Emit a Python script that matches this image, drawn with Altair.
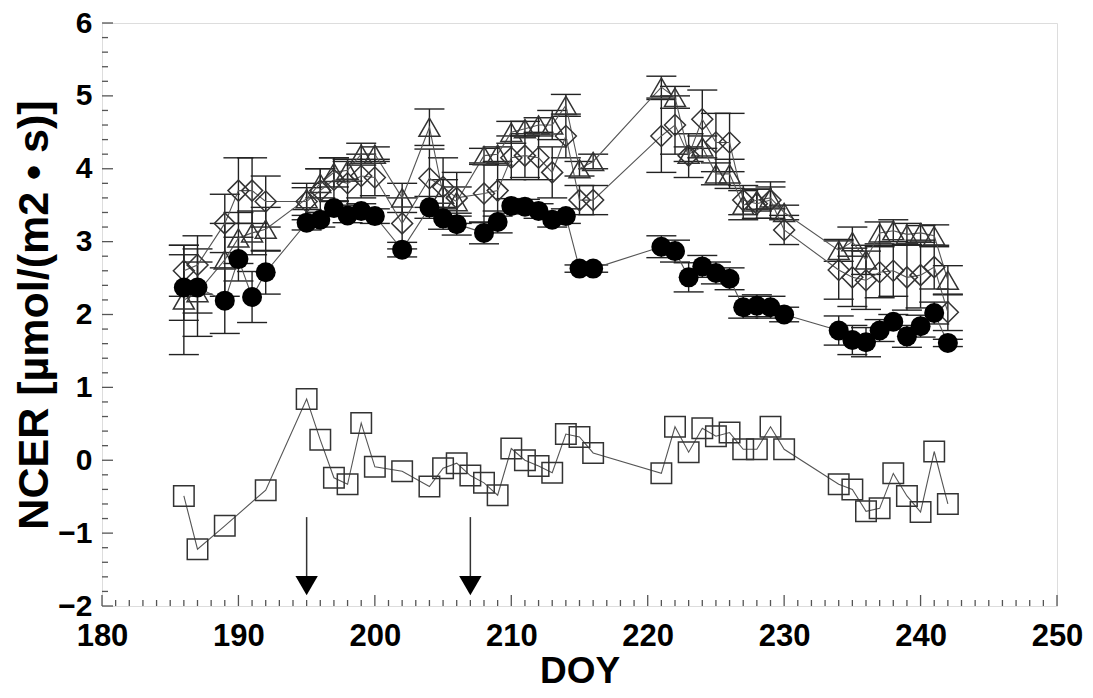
import altair as alt
import pandas as pd

# ---- data ----
days = [186, 187, 189, 190, 191, 192, 195, 196, 197, 198, 199, 200, 202, 204, 205, 206,
        208, 209, 210, 211, 212, 213, 214, 215, 216, 221, 222, 223, 224, 225, 226, 227,
        228, 229, 230, 234, 235, 236, 237, 238, 239, 240, 241, 242]

circle_vals = [2.37, 2.37, 2.19, 2.76, 2.24, 2.58, 3.26, 3.30, 3.46, 3.36, 3.42, 3.35, 2.89, 3.47, 3.32, 3.24,
               3.12, 3.27, 3.49, 3.48, 3.42, 3.30, 3.35, 2.63, 2.63, 2.93, 2.87, 2.51, 2.66, 2.57, 2.49, 2.10,
               2.12, 2.10, 2.00, 1.78, 1.65, 1.62, 1.78, 1.90, 1.70, 1.84, 2.02, 1.61]
circle_err = [0.45, 0.35, 0.45, 0.30, 0.35, 0.30, 0.10, 0.10, 0.10, 0.10, 0.10, 0.10, 0.10, 0.15, 0.15, 0.15,
              0.15, 0.15, 0.10, 0.10, 0.10, 0.10, 0.10, 0.05, 0.05, 0.15, 0.15, 0.20, 0.15, 0.15, 0.15, 0.15,
              0.15, 0.15, 0.10, 0.20, 0.20, 0.20, 0.15, 0.10, 0.15, 0.15, 0.15, 0.05]

tri_vals = [2.20, 2.30, 2.75, 3.05, 3.12, 3.17, 3.59, 3.80, 3.95, 3.98, 4.20, 4.20, 3.60, 4.57, 3.65, 3.55,
            4.18, 4.20, 4.50, 4.55, 4.60, 4.60, 4.87, 4.00, 4.10, 5.12, 4.98, 4.20, 4.30, 3.93, 3.93, 3.50,
            3.57, 3.60, 3.40, 2.88, 3.00, 2.75, 3.12, 3.15, 3.10, 3.12, 3.08, 2.47]
tri_err = [0.75, 0.60, 0.50, 0.35, 0.30, 0.30, 0.15, 0.20, 0.20, 0.15, 0.15, 0.10, 0.20, 0.25, 0.20, 0.20,
           0.10, 0.10, 0.15, 0.10, 0.10, 0.20, 0.15, 0.10, 0.10, 0.15, 0.15, 0.10, 0.15, 0.15, 0.20, 0.20,
           0.15, 0.15, 0.10, 0.15, 0.20, 0.20, 0.15, 0.15, 0.15, 0.10, 0.15, 0.20]

dia_vals = [2.60, 2.68, 3.25, 3.70, 3.70, 3.55, 3.55, 3.70, 3.85, 3.80, 3.90, 3.88, 3.25, 3.87, 3.75, 3.60,
            3.66, 3.70, 4.15, 4.18, 4.15, 3.95, 4.45, 3.57, 3.57, 4.45, 4.60, 4.18, 4.68, 4.36, 4.36, 3.57,
            3.52, 3.57, 3.16, 2.61, 2.51, 2.47, 2.58, 2.60, 2.51, 2.54, 2.65, 2.03]
dia_err = [0.35, 0.40, 0.40, 0.45, 0.45, 0.35, 0.25, 0.30, 0.30, 0.30, 0.30, 0.25, 0.35, 0.40, 0.40, 0.35,
           0.40, 0.35, 0.30, 0.30, 0.30, 0.35, 0.30, 0.20, 0.20, 0.50, 0.40, 0.30, 0.40, 0.40, 0.40, 0.20,
           0.20, 0.25, 0.20, 0.40, 0.40, 0.40, 0.35, 0.35, 0.45, 0.45, 0.30, 0.25]

sq_days = [186, 187, 189, 192, 195, 196, 197, 198, 199, 200, 202, 204, 205, 206, 207, 208, 209, 210,
           211, 212, 213, 214, 215, 216, 221, 222, 223, 224, 225, 226, 227, 228, 229, 230, 234, 235,
           236, 237, 238, 239, 240, 241, 242]
sq_vals = [-0.49, -1.22, -0.90, -0.41, 0.84, 0.28, -0.24, -0.33, 0.51, -0.09, -0.15, -0.36, -0.11, -0.04,
           -0.21, -0.31, -0.48, 0.16, 0.00, -0.08, -0.17, 0.36, 0.32, 0.10, -0.18, 0.46, 0.11, 0.44, 0.33,
           0.38, 0.15, 0.15, 0.46, 0.15, -0.33, -0.40, -0.70, -0.66, -0.18, -0.49, -0.71, 0.12, -0.60]

arrow_days = [195, 207]
arrow_top = [-0.78, -0.78]
arrow_end = [-1.60, -1.60]
arrow_head = [-1.72, -1.72]

x_major = [180, 190, 200, 210, 220, 230, 240, 250]
y_major = [-2, -1, 0, 1, 2, 3, 4, 5, 6]
x_minor = [d for d in range(181, 250) if d % 10 != 0]
y_minor = [round(-2 + 0.2 * i, 1) for i in range(1, 40) if i % 5 != 0]

# ---- tables ----
rows = []
for name, vals, errs in [("circle", circle_vals, circle_err), ("tri", tri_vals, tri_err), ("dia", dia_vals, dia_err)]:
    for d, v, e in zip(days, vals, errs):
        rows.append({"series": name, "day": d, "val": v, "lo": v - e, "hi": v + e, "xl": d - 1.1, "xr": d + 1.1})
df = pd.DataFrame(rows)
sq = pd.DataFrame({"day": sq_days, "val": sq_vals})
arrows = pd.DataFrame({"day": arrow_days, "top": arrow_top, "end": arrow_end, "head": arrow_head})

W, H = 955, 583
xs = alt.Scale(domain=[180, 250], nice=False, zero=False)
ys = alt.Scale(domain=[-2, 6], nice=False, zero=False)
FONT = "Liberation Sans"
INK = "#222222"
YT = "NCER [µmol/(m2 • s)]"

XA = alt.Axis(values=x_major, ticks=False, domain=False, grid=False, labelFont=FONT, labelFontSize=31,
              labelFontWeight="bold", labelColor="black", labelPadding=15, labelFlush=False, title="DOY",
              titleFont=FONT, titleFontSize=37, titleFontWeight="bold", titleColor="black", titlePadding=2)
YA = alt.Axis(values=y_major, ticks=False, domain=False, grid=False, labelFont=FONT, labelFontSize=30,
              labelFontWeight="bold", labelColor="black", labelPadding=10, labelFlush=False, title=YT,
              titleFont=FONT, titleFontSize=43, titleFontWeight="bold", titleColor="black", titlePadding=1)


def X(f):
    return alt.X(f, scale=xs, axis=XA, title="DOY")


def Y(f):
    return alt.Y(f, scale=ys, axis=YA, title=YT)


base = alt.Chart(df)

err_v = base.mark_rule(color=INK, strokeWidth=1.4).encode(x=X("day:Q"), y=Y("lo:Q"), y2="hi:Q")
cap_hi = base.mark_rule(color=INK, strokeWidth=1.4).encode(x=X("xl:Q"), x2="xr:Q", y=Y("hi:Q"))
cap_lo = base.mark_rule(color=INK, strokeWidth=1.4).encode(x=X("xl:Q"), x2="xr:Q", y=Y("lo:Q"))

lines = base.mark_line(color="#555555", strokeWidth=1.1).encode(
    x=X("day:Q"), y=Y("val:Q"), detail="series:N", order="day:Q")

circles = base.transform_filter(alt.datum.series == "circle").mark_point(
    shape="circle", filled=True, size=400, color="black", opacity=1).encode(x=X("day:Q"), y=Y("val:Q"))
tris = base.transform_filter(alt.datum.series == "tri").mark_point(
    shape="triangle-up", filled=False, size=440, color="#333333", strokeWidth=1.5, opacity=1).encode(
    x=X("day:Q"), y=Y("val:Q"))
dias = base.transform_filter(alt.datum.series == "dia").mark_point(
    shape="diamond", filled=False, size=440, color="#333333", strokeWidth=1.5, opacity=1).encode(
    x=X("day:Q"), y=Y("val:Q"))

sq_line = alt.Chart(sq).mark_line(color="#555555", strokeWidth=1.1).encode(x=X("day:Q"), y=Y("val:Q"))
sq_pts = alt.Chart(sq).mark_point(shape="square", filled=False, size=420, color="#333333",
                                  strokeWidth=1.5, opacity=1).encode(x=X("day:Q"), y=Y("val:Q"))

arr_line = alt.Chart(arrows).mark_rule(color="#333333", strokeWidth=1.5).encode(
    x=X("day:Q"), y=Y("top:Q"), y2="end:Q")
arr_head = alt.Chart(arrows).mark_point(shape="triangle-down", filled=True, size=500, color="black",
                                        opacity=1).encode(x=X("day:Q"), y=Y("head:Q"))

# inward axis ticks
ytk_major = alt.Chart(pd.DataFrame({"v": y_major})).mark_rule(color="#555555", strokeWidth=1.3).encode(
    y=Y("v:Q"), x=alt.value(0), x2=alt.value(11))
ytk_minor = alt.Chart(pd.DataFrame({"v": y_minor})).mark_rule(color="#555555", strokeWidth=1.3).encode(
    y=Y("v:Q"), x=alt.value(0), x2=alt.value(6))
xtk_major = alt.Chart(pd.DataFrame({"v": x_major})).mark_rule(color="#555555", strokeWidth=1.3).encode(
    x=X("v:Q"), y=alt.value(H), y2=alt.value(H - 11))
xtk_minor = alt.Chart(pd.DataFrame({"v": x_minor})).mark_rule(color="#555555", strokeWidth=1.3).encode(
    x=X("v:Q"), y=alt.value(H), y2=alt.value(H - 6))

chart = alt.layer(
    err_v, cap_hi, cap_lo, lines, sq_line, arr_line,
    ytk_major, ytk_minor, xtk_major, xtk_minor,
    dias, tris, circles, sq_pts, arr_head,
).properties(
    width=W, height=H,
    autosize=alt.AutoSizeParams(type="none"),
    padding={"left": 94, "top": 15, "right": 28, "bottom": 84},
).configure_view(
    stroke="#555555", strokeWidth=2
).configure(background="white")

chart.save("out.html", embed_options={"renderer": "svg", "actions": False})
